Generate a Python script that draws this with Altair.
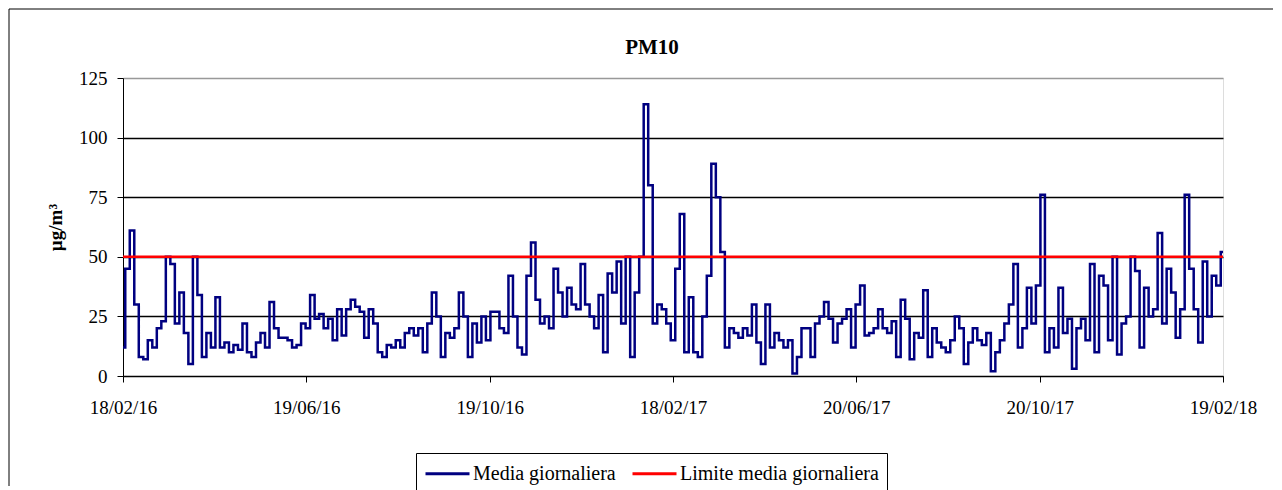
import altair as alt
import pandas as pd

step_days = 3
pm10 = [
    # 18/02/16 -> 17/06/16
    12, 45, 61, 30, 8, 7, 15, 12, 20, 23, 50, 47, 22, 35, 18, 5, 50, 34, 8, 18,
    12, 33, 12, 14, 10, 13, 11, 22, 10, 8, 14, 18, 12, 31, 20, 16, 16, 15, 12, 13, 22,
    # 20/06/16 -> 17/10/16
    20, 34, 24, 26, 20, 24, 15, 28, 17, 28, 32, 29, 27, 16, 28, 22, 10, 8, 13, 12,
    15, 12, 18, 20, 17, 20, 10, 22, 35, 25, 8, 18, 16, 20, 35, 25, 8, 22, 14, 25,
    # 18/10/16 -> 16/02/17
    15, 27, 27, 20, 18, 42, 25, 12, 9, 42, 56, 32, 22, 25, 20, 45, 35, 25, 37, 30,
    28, 47, 30, 25, 20, 34, 10, 43, 35, 48, 22, 50, 8, 35, 50, 114, 80, 22, 30, 28, 22,
    # 18/02/17 -> 18/06/17
    15, 45, 68, 10, 33, 10, 8, 25, 42, 89, 75, 52, 12, 20, 18, 16, 20, 17, 30, 14,
    5, 30, 12, 18, 15, 12, 15, 1, 8, 20, 20, 8, 22, 25, 31, 24, 14, 22, 24, 28, 12,
    # 21/06/17 -> 18/10/17
    30, 38, 17, 18, 20, 28, 20, 18, 23, 8, 32, 24, 7, 18, 16, 36, 8, 20, 14, 12,
    10, 15, 25, 20, 5, 14, 20, 15, 13, 18, 2, 10, 15, 22, 30, 47, 12, 20, 37, 22, 38,
    # 21/10/17 -> 19/02/18
    76, 10, 20, 12, 37, 18, 24, 3, 20, 24, 15, 47, 10, 42, 38, 15, 50, 9, 22, 25,
    50, 44, 12, 37, 25, 28, 60, 22, 45, 35, 16, 28, 76, 45, 28, 14, 48, 25, 42, 38, 52,
]
limit_value = 50
series_names = ["Media giornaliera", "Limite media giornaliera"]
series_colors = ["#000080", "#FF0000"]
tick_days = [0, 122, 244, 366, 488, 610, 732]
tick_labels = ["18/02/16", "19/06/16", "19/10/16", "18/02/17", "20/06/17", "20/10/17", "19/02/18"]
y_ticks = [0, 25, 50, 75, 100, 125]

days = [i * step_days for i in range(len(pm10))]
df = pd.DataFrame({"day": days, "value": pm10, "serie": series_names[0]})
lim = pd.DataFrame({"value": [limit_value], "serie": [series_names[1]]})

FONT = "Liberation Serif"
label_arr = "[" + ",".join("'%s'" % t for t in tick_labels) + "]"
tick_arr = "[" + ",".join(str(t) for t in tick_days) + "]"

color = alt.Color(
    "serie:N",
    scale=alt.Scale(domain=series_names, range=series_colors),
    legend=alt.Legend(
        title=None, orient="none", legendX=293, legendY=375, direction="horizontal",
        symbolType="M-1,0H3", symbolSize=484, symbolStrokeWidth=3,
        labelFont=FONT, labelFontSize=20, labelColor="black", labelLimit=500,
        labelOffset=24, columnPadding=10, padding=8,
        strokeColor="black", fillColor="white",
    ),
)

x_enc = alt.X(
    "day:Q",
    scale=alt.Scale(domain=[0, 732], nice=False, zero=False),
    axis=alt.Axis(
        values=tick_days, title=None, grid=False,
        labelExpr=f"{label_arr}[indexof({tick_arr}, datum.value)]",
        labelFont=FONT, labelFontSize=19, labelColor="black",
        tickSize=6, tickColor="black", domainColor="black", labelPadding=16,
        labelFlush=False, labelOverlap=False,
    ),
)
y_axis = alt.Axis(
    values=y_ticks, title="µg/m³", titleFont=FONT, titleFontSize=19, titleFontWeight="bold",
    titleColor="black", titlePadding=13,
    labelFont=FONT, labelFontSize=19, labelColor="black", labelPadding=10,
    tickSize=6, tickColor="black", domainColor="black",
    grid=True,
    gridColor={"condition": {"test": "datum.value === 125", "value": "#999999"}, "value": "#000000"},
    gridWidth=1.3,
)

line = alt.Chart(df).mark_line(strokeWidth=2.5, interpolate="step").encode(
    x=x_enc,
    y=alt.Y("value:Q", scale=alt.Scale(domain=[0, 125], nice=False), axis=y_axis),
    color=color,
)
rule = alt.Chart(lim).mark_rule(strokeWidth=2.5).encode(
    y=alt.Y("value:Q"),
    color=color,
)

frame_data = alt.Data(values=[{"k": 1}])
frame_top = alt.Chart(frame_data).mark_rule(color="black", strokeWidth=1).encode(
    x=alt.value(-114), x2=alt.value(1150), y=alt.value(-69)
)
frame_left = alt.Chart(frame_data).mark_rule(color="black", strokeWidth=1).encode(
    x=alt.value(-114), y=alt.value(-69), y2=alt.value(408)
)

chart = alt.layer(line, rule, frame_top, frame_left).properties(
    width=1100, height=298, padding=0,
    title=alt.TitleParams("PM10", font=FONT, fontSize=21, fontWeight="bold", color="black",
                          anchor="middle", dx=-21, offset=-49),
).configure_view(stroke="#999999", strokeWidth=1.3).configure(background="white")

chart.save("out.html", embed_options={"renderer": "svg", "actions": False})
